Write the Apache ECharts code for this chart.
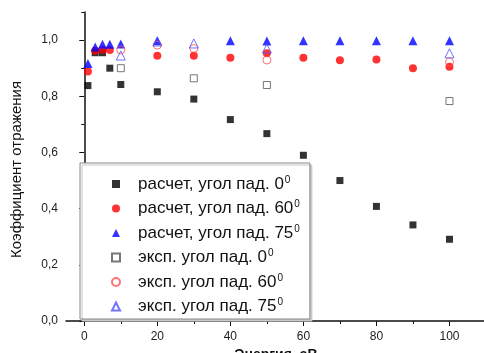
<!DOCTYPE html>
<html><head><meta charset="utf-8">
<script src="https://cdn.jsdelivr.net/npm/echarts@6/dist/echarts.min.js"></script>
<style>html,body{margin:0;padding:0;background:#fff}#c{width:484px;height:353px}</style>
</head><body><div id="c"></div>
<script>
// Calculated (filled markers)
const calc0X = [1, 3, 5, 7, 10, 20, 30, 40, 50, 60, 70, 80, 90, 100];
const calc0Y = [0.838, 0.955, 0.955, 0.900, 0.842, 0.816, 0.790, 0.717, 0.667, 0.590, 0.500, 0.408, 0.342, 0.291];
const calc60X = [1, 3, 5, 7, 20, 30, 40, 50, 60, 70, 80, 90, 100];
const calc60Y = [0.888, 0.962, 0.965, 0.965, 0.944, 0.944, 0.937, 0.953, 0.937, 0.928, 0.931, 0.900, 0.905];
const calc75X = [1, 3, 5, 7, 10, 20, 40, 50, 60, 70, 80, 90, 100];
const calc75Y = [0.917, 0.975, 0.985, 0.985, 0.986, 0.998, 0.998, 0.997, 0.998, 0.998, 0.998, 0.998, 0.998];
// Experiment (open markers)
const exp0X = [10, 30, 50, 100];
const exp0Y = [0.900, 0.864, 0.840, 0.783];
const exp60X = [10, 20, 30, 50, 100];
const exp60Y = [0.965, 0.982, 0.970, 0.929, 0.922];
const exp75X = [10, 20, 30, 50, 100];
const exp75Y = [0.945, 0.995, 0.988, 0.970, 0.953];

const xMajor = [0, 20, 40, 60, 80, 100];
const xMinor = [10, 30, 50, 70, 90];
const yMajor = [0, 0.2, 0.4, 0.6, 0.8, 1.0];
const yMinor = [0.1, 0.3, 0.5, 0.7, 0.9, 1.1];

const nameCalc = 'расчет, угол пад. ';
const nameExp = 'эксп. угол пад. ';
const angles = ['0', '60', '75'];
const degSup = '0';

const zip = (xs, ys) => xs.map((x, i) => [x, ys[i]]);
const FONT = 'Liberation Sans, Arial, sans-serif';

const chart = echarts.init(document.getElementById('c'), null, {renderer: 'canvas'});
const fmt = v => v.toFixed(1).replace('.', ',');

function mk(name, data, symbol, size, style) {
  return {type: 'scatter', name, data, symbol, symbolSize: size, itemStyle: style, xAxisIndex: 0, yAxisIndex: 0};
}

chart.setOption({
  animation: false,
  backgroundColor: '#fff',
  textStyle: {fontFamily: FONT},
  grid: {left: 66, top: 12, width: 420, height: 309, containLabel: false, outerBoundsMode: 'none'},
  xAxis: [{
    type: 'value', min: -5, max: 110,
    axisLine: {show: true, lineStyle: {color: '#111', width: 1.5}},
    axisTick: {show: true, customValues: xMajor, length: 5, lineStyle: {color: '#111', width: 1}},
    axisLabel: {customValues: xMajor, color: '#222', fontSize: 12, margin: 10, fontFamily: FONT},
    splitLine: {show: false},
    name: 'Энергия, эВ', nameLocation: 'middle', nameGap: 17,
    nameTextStyle: {fontSize: 14, fontWeight: 'bold', color: '#111', fontFamily: FONT}
  }, {
    type: 'value', min: -5, max: 110, position: 'bottom',
    axisLine: {show: false},
    axisTick: {show: true, customValues: xMinor, length: 3, lineStyle: {color: '#111', width: 1}},
    axisLabel: {show: false}, splitLine: {show: false}
  }],
  yAxis: [{
    type: 'value', min: 0, max: 1.1,
    axisLine: {show: true, lineStyle: {color: '#111', width: 1.5}},
    axisTick: {show: true, customValues: yMajor, length: 5, lineStyle: {color: '#111', width: 1}},
    axisLabel: {customValues: yMajor, formatter: fmt, color: '#222', fontSize: 12, margin: 8, fontFamily: FONT},
    splitLine: {show: false},
    name: 'Коэффициент отражения', nameLocation: 'middle', nameGap: 42,
    nameTextStyle: {fontSize: 15, color: '#111', fontFamily: FONT, padding: [0, 6, 0, 0]}
  }, {
    type: 'value', min: 0, max: 1.1, position: 'left',
    axisLine: {show: false},
    axisTick: {show: true, customValues: yMinor, length: 3, lineStyle: {color: '#111', width: 1}},
    axisLabel: {show: false}, splitLine: {show: false}
  }],
  legend: {
    orient: 'vertical', left: 80, top: 163,
    padding: [12, 10, 4, 31],
    itemWidth: 8, itemHeight: 8, itemGap: 7,
    backgroundColor: '#fff', borderColor: '#888', borderWidth: 1,
    shadowColor: '#c8c8c8', shadowOffsetX: 2, shadowOffsetY: 2, shadowBlur: 0,
    formatter: name => '{t|' + name + '}{s|' + degSup + '}',
    textStyle: {
      fontFamily: FONT, color: '#111', padding: [0, 0, 0, 13],
      rich: {
        t: {fontSize: 17, fontFamily: FONT, color: '#111', lineHeight: 18},
        s: {fontSize: 10, fontFamily: FONT, color: '#111', lineHeight: 7, verticalAlign: 'top', padding: [0, 0, 0, 1]}
      }
    },
    data: [nameCalc + angles[0], nameCalc + angles[1], nameCalc + angles[2], nameExp + angles[0], nameExp + angles[1], nameExp + angles[2]]
  },
  series: [
    mk(nameCalc + angles[0], zip(calc0X, calc0Y), 'rect', 7, {color: '#000'}),
    mk(nameCalc + angles[1], zip(calc60X, calc60Y), 'circle', 8, {color: '#ff0000'}),
    mk(nameCalc + angles[2], zip(calc75X, calc75Y), 'triangle', 9, {color: '#0000ff'}),
    mk(nameExp + angles[0], zip(exp0X, exp0Y), 'rect', 7, {color: '#fff', borderColor: '#555', borderWidth: 1}),
    mk(nameExp + angles[1], zip(exp60X, exp60Y), 'circle', 8, {color: 'rgba(255,255,255,0)', borderColor: '#ff5050', borderWidth: 1}),
    mk(nameExp + angles[2], zip(exp75X, exp75Y), 'triangle', 9, {color: 'rgba(255,255,255,0)', borderColor: '#5050ff', borderWidth: 1})
  ]
});
</script></body></html>
